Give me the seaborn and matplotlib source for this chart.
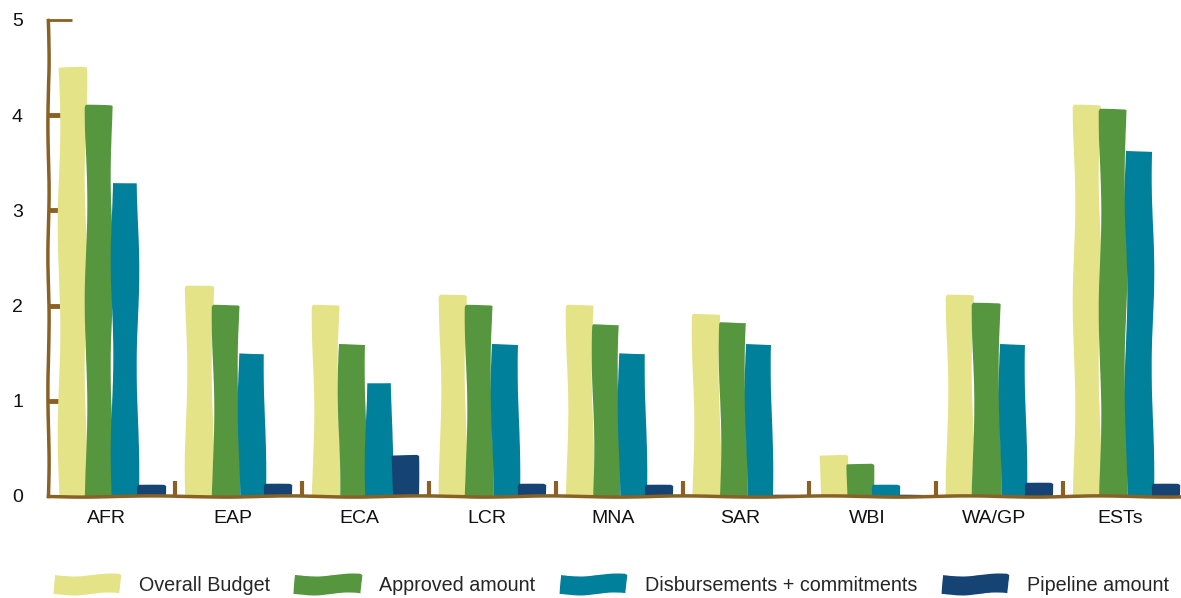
import numpy as np
import pandas as pd
import matplotlib
matplotlib.use("Agg")
import matplotlib.pyplot as plt
import matplotlib.transforms as mtransforms
import seaborn as sns

# Budget figures per region (US$ millions)
regions = ["AFR", "EAP", "ECA", "LCR", "MNA", "SAR", "WBI", "WA/GP", "ESTs"]
overall_budget = [4.5, 2.2, 2.0, 2.1, 2.0, 1.9, 0.42, 2.1, 4.1]
approved_amount = [4.1, 2.0, 1.6, 2.0, 1.8, 1.82, 0.33, 2.02, 4.05]
disbursements_commitments = [3.3, 1.5, 1.2, 1.6, 1.5, 1.6, 0.1, 1.6, 3.62]
pipeline_amount = [0.1, 0.12, 0.42, 0.12, 0.1, 0.0, 0.0, 0.13, 0.12]
series_names = ["Overall Budget", "Approved amount",
                "Disbursements + commitments", "Pipeline amount"]
y_ticks = [0, 1, 2, 3, 4, 5]

colors = ["#E4E388", "#56963F", "#00809B", "#154374"]
brown = "#8A6124"

sns.set_style("white")
plt.rcParams["font.family"] = ["Liberation Sans", "DejaVu Sans"]

df = pd.DataFrame({
    "region": regions * 4,
    "series": sum([[s] * len(regions) for s in series_names], []),
    "value": overall_budget + approved_amount + disbursements_commitments + pipeline_amount,
})

fig = plt.figure(figsize=(11.81, 5.98), dpi=100)
ax = fig.add_axes([48 / 1181, 102 / 598, 1133 / 1181, 476 / 598])

sns.barplot(data=df, x="region", y="value", hue="series", hue_order=series_names,
            order=regions, palette=colors, saturation=1, width=0.83,
            linewidth=0, edgecolor="none", ax=ax)

# hand-drawn wobble on bars
for p in ax.patches:
    p.set_sketch_params(1.3, 220, 2)

ax.set_xlim(-0.505, 8.43)
ax.set_ylim(0, 5)
ax.set_yticks(y_ticks)
ax.set_yticklabels([str(t) for t in y_ticks])
ax.set_xlabel("")
ax.set_ylabel("")

for side in ["top", "right"]:
    ax.spines[side].set_visible(False)
for side in ["left", "bottom"]:
    ax.spines[side].set_color(brown)
    ax.spines[side].set_linewidth(2.5)
    ax.spines[side].set_sketch_params(0.6, 150, 2)

ax.tick_params(axis="both", which="both", left=True, bottom=True)
ax.tick_params(axis="y", direction="in", length=10, width=3.5, color=brown,
               pad=18, labelsize=14, labelcolor="#111111")
ax.tick_params(axis="x", which="major", length=0, pad=10, labelsize=14,
               labelcolor="#111111")
ax.set_xticks(np.arange(0.5, len(regions) - 1, 1), minor=True)
ax.tick_params(axis="x", which="minor", direction="in", length=11, width=3,
               color=brown)

# category labels sit slightly left of their bar groups
shift = mtransforms.ScaledTranslation(-6 / 100, 0, fig.dpi_scale_trans)
for lbl in ax.get_xticklabels():
    lbl.set_transform(lbl.get_transform() + shift)

# thin cap at the top of the value axis
top_tick = ax.yaxis.get_major_ticks()[-1]
top_tick.tick1line.set_markersize(17)
top_tick.tick1line.set_markeredgewidth(2)
zero_tick = ax.yaxis.get_major_ticks()[0]
zero_tick.tick1line.set_markersize(0)

ax.get_legend().remove()
handles, labels = ax.get_legend_handles_labels()
leg = fig.legend(handles, labels, loc="center", bbox_to_anchor=(0.518, 0.022),
                 ncol=4, frameon=False, fontsize=14.2, handlelength=3.3,
                 handleheight=1.1, handletextpad=0.95, columnspacing=1.3)
for h in leg.get_patches():
    h.set_sketch_params(1.5, 80, 2)

fig.savefig("out.png", dpi=100)
